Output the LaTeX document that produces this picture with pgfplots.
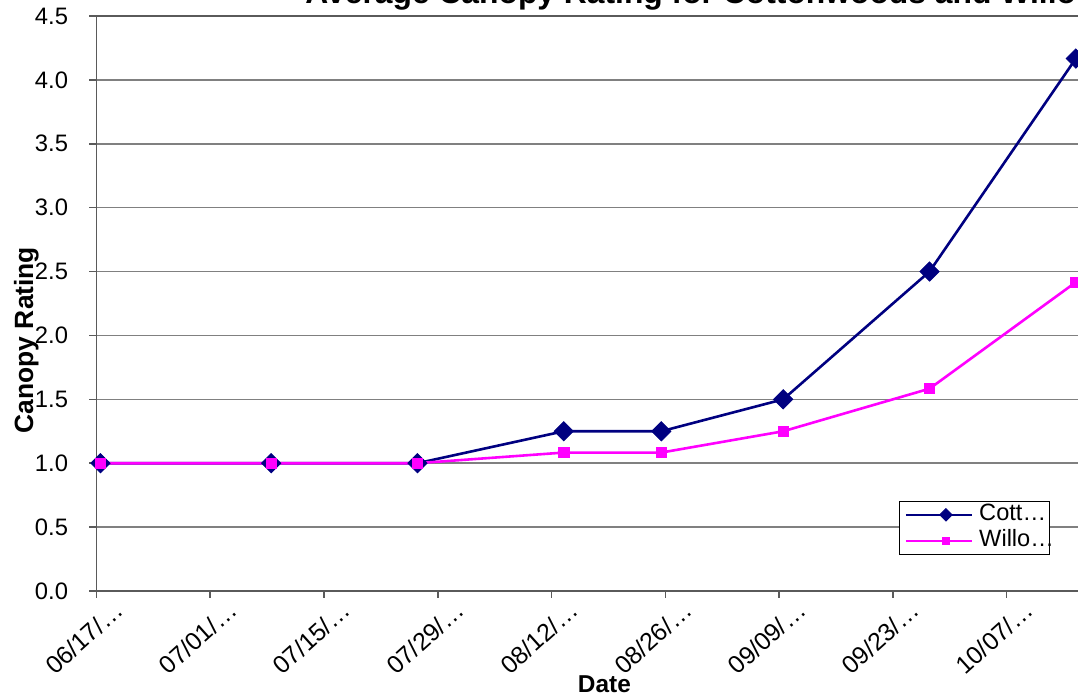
\documentclass[border=0pt]{standalone}
\usepackage{pgfplots}
\pgfplotsset{compat=1.18}
\usepackage{fontspec}
\setmainfont{Liberation Sans}
\definecolor{cotton}{RGB}{0,0,128}
\definecolor{willow}{RGB}{255,0,255}
\definecolor{gridgray}{RGB}{128,128,128}
\definecolor{axisgray}{RGB}{90,90,90}
\begin{document}
\begin{tikzpicture}
\begin{axis}[
  at={(48.2pt,54.5pt)}, anchor=south west,
  scale only axis, width=508pt, height=287.5pt,
  xmin=0, xmax=125, ymin=0, ymax=4.5,
  /pgf/number format/assume math mode=true,
  xtick={0,14,28,42,56,70,84,98,112},
  xticklabels={06/17/…,07/01/…,07/15/…,07/29/…,08/12/…,08/26/…,09/09/…,09/23/…,10/07/…},
  ytick={0,0.5,1,1.5,2,2.5,3,3.5,4,4.5},
  yticklabel style={/pgf/number format/fixed, /pgf/number format/fixed zerofill, /pgf/number format/precision=1, anchor=east, inner sep=0pt, xshift=-10.5pt},
  xtick pos=left, ytick pos=left,
  tick align=outside, major tick length=3.5pt,
  tick style={axisgray, line width=0.75pt},
  axis line style={axisgray, line width=0.75pt},
  ymajorgrids, grid style={gridgray, line width=0.75pt},
  tick label style={font=\fontsize{11.9}{14}\selectfont},
  xticklabel style={xshift=-6.2pt, yshift=-20pt, rotate=42, anchor=center, font=\fontsize{12.4}{14}\selectfont},
  title={Average Canopy Rating for Cottonwoods and Willows},
  title style={at={(axis description cs:0.2053,1.0017)}, anchor=base west, inner sep=0pt, font=\bfseries\fontsize{15.9}{18}\selectfont},
  xlabel={Date},
  xlabel style={at={(axis description cs:0.5,-0.1769)}, anchor=base, inner sep=0pt, font=\bfseries\fontsize{12.2}{14}\selectfont},
  ylabel={Canopy Rating},
  ylabel style={at={(axis description cs:-0.0624,0.4365)}, anchor=base, inner sep=0pt, font=\bfseries\fontsize{13.2}{15}\selectfont},
  legend image code/.code={
    \path (0pt,0pt) -- (7pt,0pt);
    \draw[mark repeat=2,mark phase=2,#1, every mark/.append style={scale=0.65}] plot coordinates {(7pt,0pt) (20pt,0pt) (33pt,0pt)};
  },
  legend style={at={(0.79,0.157)}, anchor=north west, draw=black, line width=0.6pt, fill=white,
    inner xsep=2.5pt, inner ysep=1.25pt, row sep=2pt, column sep=1pt,
    nodes={inner xsep=2pt, inner ysep=0pt, text height=8.5pt, text depth=2.5pt},
    font=\fontsize{11.8}{13}\selectfont, cells={anchor=west}},
]
\addplot[cotton, line width=1.3pt, mark=square*, mark size=3.4pt,
  mark options={rotate=45, line width=0.4pt, fill=cotton, draw=cotton}]
  coordinates {(0.5,1.0) (21.5,1.0) (39.5,1.0) (57.5,1.25) (69.5,1.25) (84.5,1.5) (102.5,2.5) (120.5,4.1667)};
\addlegendentry{\makebox[30.5pt][l]{Cott…}}
\addplot[willow, line width=1.3pt, mark=square*, mark size=2.6pt,
  mark options={line width=0.4pt, fill=willow, draw=willow}]
  coordinates {(0.5,1.0) (21.5,1.0) (39.5,1.0) (57.5,1.0833) (69.5,1.0833) (84.5,1.25) (102.5,1.5833) (120.5,2.4167)};
\addlegendentry{\makebox[30.5pt][l]{Willo…}}
\end{axis}
\pgfresetboundingbox
\useasboundingbox (0,0) rectangle (539pt,350pt);
\end{tikzpicture}
\end{document}
